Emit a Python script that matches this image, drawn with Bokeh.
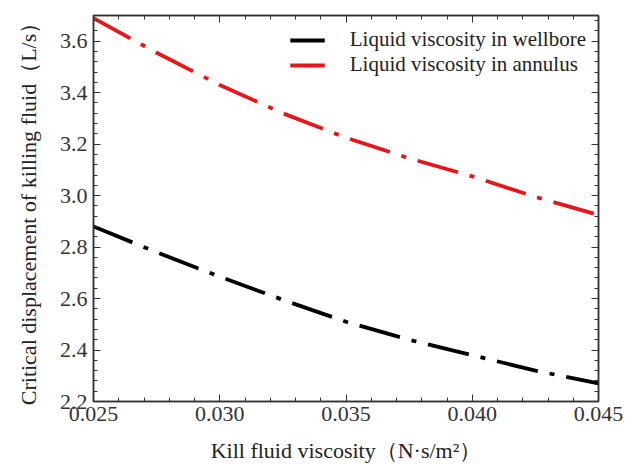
from bokeh.plotting import figure
from bokeh.models import (LinearAxis, Range1d, Legend, LegendItem, FixedTicker,
                          PrintfTickFormatter, CustomJSTickFormatter)
from bokeh.embed import file_html
from bokeh.resources import INLINE

viscosity = [0.025, 0.0275, 0.030, 0.0325, 0.035, 0.0375, 0.040, 0.0425, 0.045]
wellbore = [2.88, 2.78, 2.685, 2.595, 2.51, 2.44, 2.38, 2.32, 2.27]
annulus = [3.69, 3.555, 3.43, 3.32, 3.225, 3.145, 3.075, 2.995, 2.925]
x_ticks = [0.025, 0.030, 0.035, 0.040, 0.045]
y_ticks = [2.2, 2.4, 2.6, 2.8, 3.0, 3.2, 3.4, 3.6]

FONT = "Liberation Serif"

p = figure(width=625, height=472, output_backend="svg", toolbar_location=None,
           x_range=Range1d(0.025, 0.045), y_range=Range1d(2.2, 3.70),
           min_border_left=93, min_border_right=27, min_border_top=15, min_border_bottom=71)
p.grid.visible = False
p.outline_line_color = "#333333"
p.outline_line_width = 1.5
p.background_fill_color = "white"
p.border_fill_color = "white"

dash = "42 12 5 12"
r1 = p.line(viscosity, wellbore, line_color="black", line_width=3.8, line_dash=dash)
r2 = p.line(viscosity, annulus, line_color="#e8161b", line_width=3.8, line_dash=dash)

x_minor = [0.025 + 0.001 * i for i in range(21)]
y_minor = [2.2 + 0.04 * i for i in range(38)]

def style(ax):
    ax.major_tick_in = 7
    ax.major_tick_out = 0
    ax.minor_tick_in = 4
    ax.minor_tick_out = 0
    ax.axis_line_color = "#333333"
    ax.axis_line_width = 1.5
    ax.major_tick_line_color = "#333333"
    ax.minor_tick_line_color = "#333333"
    ax.major_label_text_font = FONT
    ax.major_label_text_font_size = "22px"
    ax.major_label_text_color = "#333333"
    ax.axis_label_text_font = FONT
    ax.axis_label_text_font_size = "22px"
    ax.axis_label_text_font_style = "normal"
    ax.axis_label_text_color = "#222222"

xa = p.xaxis[0]
xa.ticker = FixedTicker(ticks=x_ticks, minor_ticks=x_minor)
xa.formatter = PrintfTickFormatter(format="%.3f")
style(xa)
xa.axis_label = "Kill fluid viscosity（N·s/m²）"
xa.axis_label_standoff = 14
xa.major_label_standoff = 5

ya = p.yaxis[0]
ya.ticker = FixedTicker(ticks=y_ticks, minor_ticks=y_minor)
ya.formatter = PrintfTickFormatter(format="%.1f")
style(ya)
ya.axis_label = "Critical displacement of killing fluid（L/s）"
ya.axis_label_text_font_size = "22px"
ya.axis_label_standoff = 16
ya.major_label_standoff = 6

blank = CustomJSTickFormatter(code="return ''")
top = LinearAxis(ticker=FixedTicker(ticks=x_ticks, minor_ticks=x_minor), formatter=blank)
style(top)
p.add_layout(top, "above")
right = LinearAxis(ticker=FixedTicker(ticks=y_ticks, minor_ticks=y_minor), formatter=blank)
style(right)
p.add_layout(right, "right")

legend = Legend(items=[LegendItem(label="Liquid viscosity in wellbore", renderers=[r1]),
                       LegendItem(label="Liquid viscosity in annulus", renderers=[r2])],
                location="top_right", border_line_alpha=0, background_fill_alpha=0,
                label_text_font=FONT, label_text_font_size="21px", label_text_color="#222222",
                glyph_width=35, spacing=0, padding=4, margin=8, label_standoff=25)
p.add_layout(legend)

open("out.html", "w").write(file_html(p, INLINE))
